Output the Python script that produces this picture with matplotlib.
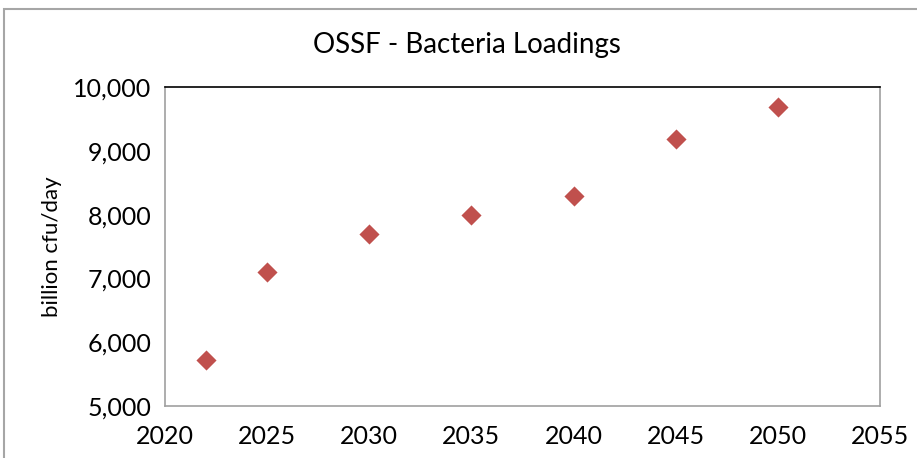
import matplotlib
matplotlib.use("Agg")
import matplotlib.pyplot as plt
from matplotlib.patches import Rectangle
from matplotlib.ticker import FuncFormatter

# OSSF bacteria loading projections (billion cfu/day)
years = [2022, 2025, 2030, 2035, 2040, 2045, 2050]
loadings = [5720, 7100, 7700, 8000, 8290, 9180, 9690]

x_ticks = [2020, 2025, 2030, 2035, 2040, 2045, 2050, 2055]
y_ticks = [5000, 6000, 7000, 8000, 9000, 10000]

plt.rcParams['font.family'] = ['Lato', 'DejaVu Sans']

fig = plt.figure(figsize=(9.17, 4.58), dpi=100)

# chart border
fig.patches.append(Rectangle((4 / 917, -0.05), 2.0, (458 - 9) / 458 + 0.05,
                             transform=fig.transFigure, fill=False,
                             edgecolor='#a6a6a6', linewidth=1.5))

ax = fig.add_axes([165 / 917, (458 - 406) / 458, (880 - 165) / 917, (406 - 87) / 458])
ax.scatter(years, loadings, marker='D', s=105, color='#C0504D', zorder=3, linewidths=0)

ax.set_xlim(2020, 2055)
ax.set_ylim(5000, 10000)
ax.set_xticks(x_ticks)
ax.set_yticks(y_ticks)
ax.yaxis.set_major_formatter(FuncFormatter(lambda v, p: f"{int(v):,}"))
ax.tick_params(length=0, labelsize=18, pad=10)
ax.tick_params(axis='x', pad=14)

for side in ['left', 'right', 'bottom']:
    ax.spines[side].set_color('#a0a0a0')
    ax.spines[side].set_linewidth(1.2)
ax.spines['top'].set_color('black')
ax.spines['top'].set_linewidth(1.2)

ax.set_ylabel("billion cfu/day", fontsize=16, labelpad=8)
fig.text(467 / 917, 1 - 45 / 458, "OSSF - Bacteria Loadings", ha='center', va='center', fontsize=20)

fig.savefig("out.png", dpi=100)
